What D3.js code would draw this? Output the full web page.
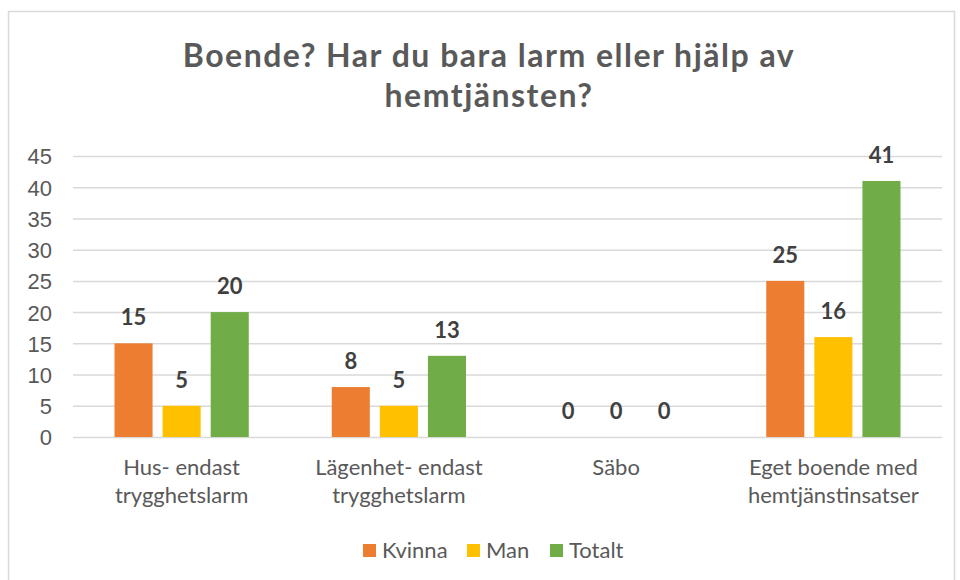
<!DOCTYPE html>
<html><head><meta charset="utf-8">
<script src="https://cdn.jsdelivr.net/npm/d3@7"></script>
<style>body{margin:0;background:#fff;} svg{display:block;font-family:Lato,"Open Sans",sans-serif;}</style>
</head><body>
<svg id="c" width="960" height="580"></svg>
<script>
const categories = [["Hus- endast","trygghetslarm"],["Lägenhet- endast","trygghetslarm"],["Säbo"],["Eget boende med","hemtjänstinsatser"]];
const seriesNames = ["Kvinna","Man","Totalt"];
const kvinna = [15, 8, 0, 25];
const man = [5, 5, 0, 16];
const totalt = [20, 13, 0, 41];
const yTicks = [0,5,10,15,20,25,30,35,40,45];
const colors = ["#ED7D31","#FFC000","#70AD47"];
const titleLines = ["Boende? Har du bara larm eller hjälp av","hemtjänsten?"];

(function(){
const svg = d3.select("#c");
svg.append("rect").attr("x",8.5).attr("y",11.5).attr("width",946).attr("height",580).attr("fill","#fff").attr("stroke","#d9d9d9").attr("stroke-width",1.5);

const pL=73,pR=942,pT=156,pB=437;
const x0 = d3.scaleBand().domain(d3.range(categories.length)).range([pL,pR]).paddingInner(0).paddingOuter(0);
const x1 = d3.scaleBand().domain(d3.range(3)).range([41.5, x0.bandwidth()-41.5]).paddingInner(10/48).paddingOuter(0);
const y = d3.scaleLinear().domain([0,45]).range([pB,pT]);

const yAxis = d3.axisLeft(y).tickValues(yTicks).tickSize(-(pR-pL)).tickPadding(20);
const ga = svg.append("g").attr("transform",`translate(${pL},0)`).call(yAxis);
ga.select(".domain").remove();
ga.selectAll(".tick line").attr("stroke","#d9d9d9").attr("stroke-width",1.5);
ga.selectAll(".tick text").attr("fill","#595959").attr("font-size",22).attr("x",-21).attr("dy","0.36em").attr("font-family",null);

const data = [kvinna, man, totalt];
const g = svg.append("g");
data.forEach((vals,si)=>{
  g.selectAll(null).data(vals).enter().append("rect")
    .attr("x",(d,i)=>x0(i)+x1(si)).attr("width",x1.bandwidth())
    .attr("y",d=>y(d)).attr("height",d=>y(0)-y(d)).attr("fill",colors[si]);
  g.selectAll(null).data(vals).enter().append("text")
    .attr("x",(d,i)=>x0(i)+x1(si)+x1.bandwidth()/2).attr("y",d=>y(d)-18)
    .attr("text-anchor","middle").attr("font-size",22).attr("font-weight","bold").attr("fill","#404040")
    .text(d=>d);
});

categories.forEach((lines,i)=>{
  const t = svg.append("text").attr("text-anchor","middle").attr("fill","#595959").attr("font-size",22);
  lines.forEach((l,j)=>t.append("tspan").attr("x",x0(i)+x0.bandwidth()/2).attr("y",475+j*28).text(l));
});

titleLines.forEach((l,j)=>svg.append("text").attr("x",489).attr("y",67+j*40).attr("text-anchor","middle")
  .attr("font-size",32).attr("font-weight","bold").attr("letter-spacing",1.5).attr("fill","#595959").text(l));

const legX = [363,467,550];
seriesNames.forEach((n,i)=>{
  svg.append("rect").attr("x",legX[i]).attr("y",544).attr("width",13).attr("height",13).attr("fill",colors[i]);
  svg.append("text").attr("x",legX[i]+19).attr("y",558).attr("font-size",22).attr("fill","#595959").text(n);
});
})();
</script>
</body></html>
